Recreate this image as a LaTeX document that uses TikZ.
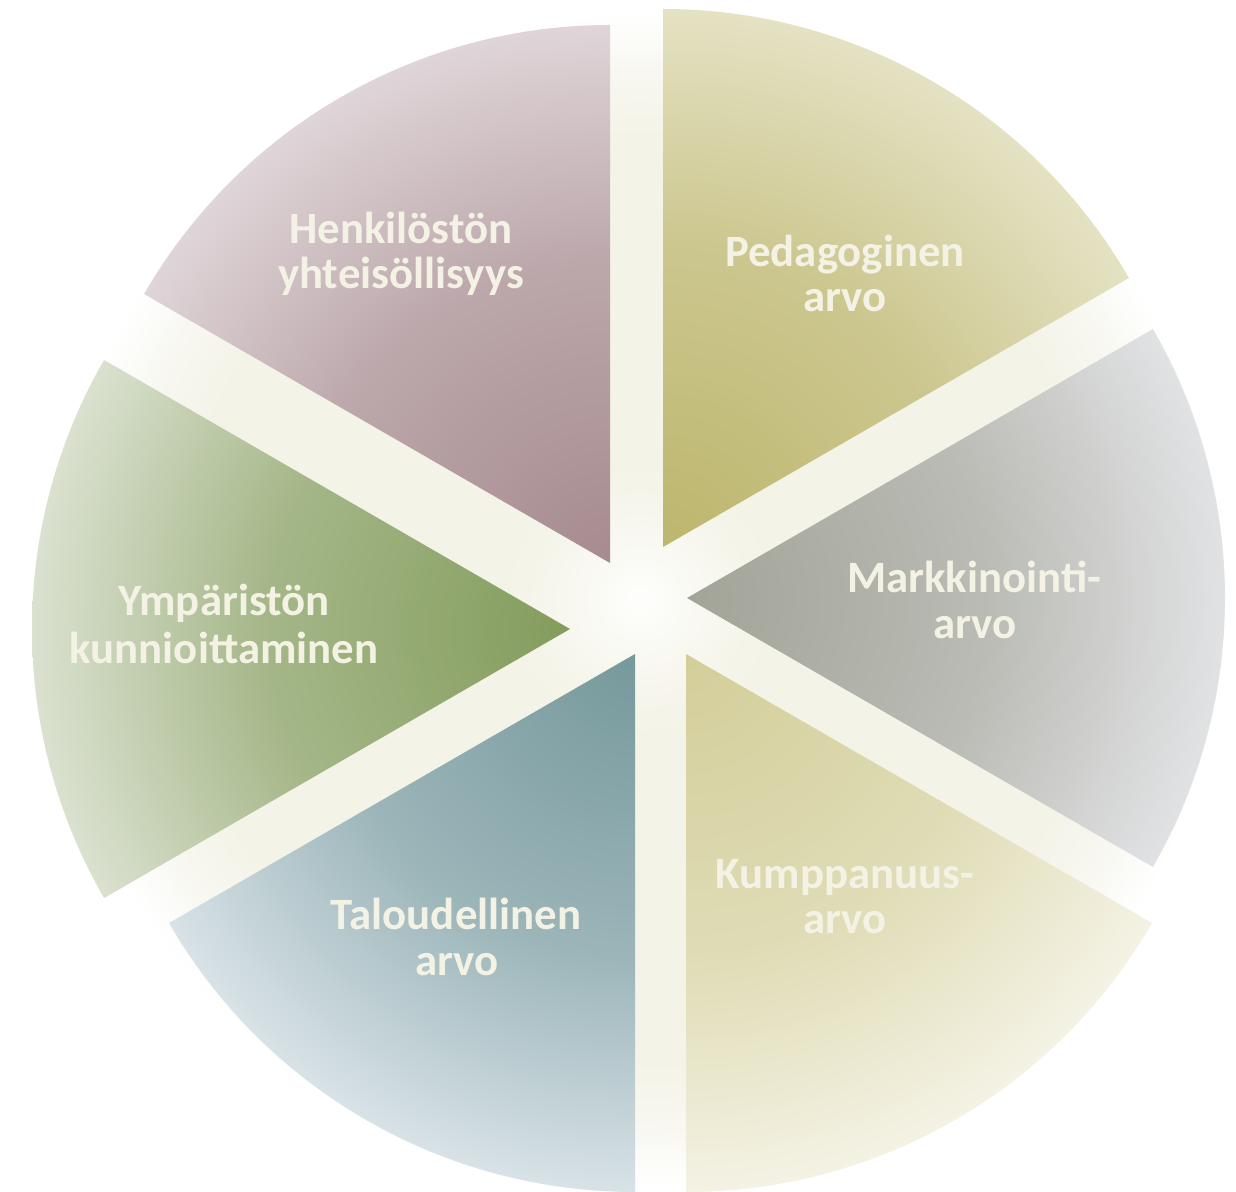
\documentclass[tikz,border=0pt]{standalone}
\usepackage{fontspec}
\newfontfamily\labfont{Carlito}
\definecolor{labcol}{HTML}{F4F2E4}
\pgfdeclareradialshading{bgglow}{\pgfpointorigin}{rgb(0bp)=(0.995,0.995,0.988); rgb(5bp)=(0.958,0.955,0.91); rgb(19bp)=(0.955,0.952,0.905); rgb(22bp)=(0.972,0.97,0.945); rgb(24.5bp)=(1,1,1); rgb(50bp)=(1,1,1)}
\pgfdeclareradialshading{shHenk}{\pgfpointorigin}{rgb(0bp)=(0.651,0.545,0.561); rgb(14bp)=(0.736,0.655,0.670); rgb(25bp)=(0.875,0.835,0.847); rgb(50bp)=(0.875,0.835,0.847)}
\pgfdeclareradialshading{shPed}{\pgfpointorigin}{rgb(0bp)=(0.741,0.714,0.431); rgb(14bp)=(0.799,0.779,0.558); rgb(25bp)=(0.894,0.886,0.765); rgb(50bp)=(0.894,0.886,0.765)}
\pgfdeclareradialshading{shMark}{\pgfpointorigin}{rgb(0bp)=(0.635,0.643,0.596); rgb(14bp)=(0.729,0.735,0.709); rgb(25bp)=(0.882,0.886,0.894); rgb(50bp)=(0.882,0.886,0.894)}
\pgfdeclareradialshading{shYmp}{\pgfpointorigin}{rgb(0bp)=(0.514,0.612,0.361); rgb(14bp)=(0.644,0.715,0.532); rgb(25bp)=(0.855,0.882,0.812); rgb(50bp)=(0.855,0.882,0.812)}
\pgfdeclareradialshading{shTal}{\pgfpointorigin}{rgb(0bp)=(0.463,0.600,0.612); rgb(14bp)=(0.609,0.709,0.724); rgb(25bp)=(0.847,0.886,0.906); rgb(50bp)=(0.847,0.886,0.906)}
\pgfdeclareradialshading{shKump}{\pgfpointorigin}{rgb(0bp)=(0.827,0.808,0.600); rgb(14bp)=(0.876,0.862,0.712); rgb(25bp)=(0.957,0.949,0.894); rgb(50bp)=(0.957,0.949,0.894)}
\newcommand\wedgeshade[4]{%
  \begin{scope}
    \clip (#1,#2) -- ++(#3:538) arc[start angle=#3, end angle=#3+60, radius=538] -- cycle;
    \shade[shading=#4] (#1,#2) circle[radius=538];
  \end{scope}}
\tikzset{lab/.style={text=labcol, anchor=base, inner sep=0pt, font=\labfont\bfseries\fontsize{25.5}{30}\selectfont}}
\begin{document}
\begin{tikzpicture}[x=0.02cm,y=0.02cm]
\useasboundingbox (0,0) rectangle (1236,1191);
\fill[white] (0,0) rectangle (1236,1191);
\shade[shading=bgglow] (640,591) circle[radius=600];
\wedgeshade{610}{628}{90}{shHenk}
\wedgeshade{663}{644}{30}{shPed}
\wedgeshade{687}{593}{-30}{shMark}
\wedgeshade{570}{562}{150}{shYmp}
\wedgeshade{635}{537}{210}{shTal}
\wedgeshade{686}{537}{270}{shKump}
% labels (baselines)
\node[lab] (henk1) at (401,947) {Henkilöstön};
\node[lab] (henk2) at (401,902) {yhteisöllisyys};
\node[lab] (ped1) at (845,924) {Pedagoginen};
\node[lab] (ped2) at (845,879) {arvo};
\node[lab] (mark1) at (974,599) {Markkinointi-};
\node[lab] (mark2) at (975,553) {arvo};
\node[lab] (ymp1) at (224,576) {Ympäristön};
\node[lab] (ymp2) at (224,528) {kunnioittaminen};
\node[lab] (tal1) at (456,262) {Taloudellinen};
\node[lab] (tal2) at (457,216) {arvo};
\node[lab] (kump1) at (845,303) {Kumppanuus-};
\node[lab] (kump2) at (845,258) {arvo};
\end{tikzpicture}
\end{document}
